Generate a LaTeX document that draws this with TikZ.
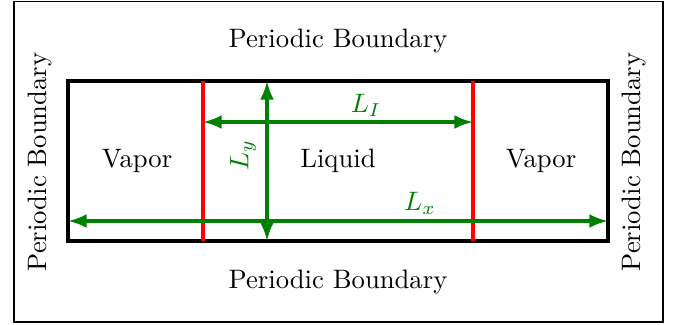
\documentclass[tikz,border=0pt]{standalone}
\usetikzlibrary{arrows.meta}
\definecolor{dgreen}{RGB}{0,128,0}
\tikzset{
  frame/.style={draw=black, line width=0.4pt},
  box/.style={draw=black, line width=1.16pt},
  sep/.style={draw=red, line width=1.16pt},
  dim/.style={draw=dgreen, line width=1.16pt, {Latex[length=7pt,width=5.2pt]}-{Latex[length=7pt,width=5.2pt]}},
  lab/.style={text=black},
  glab/.style={text=dgreen}
}
\begin{document}
\begin{tikzpicture}[x=0.375pt, y=-0.375pt]
\useasboundingbox (0,0) rectangle (688,324);
\draw[frame] (14,1.5) rectangle (663,322);
% inner box
\coordinate (tl) at (68,81);
\coordinate (br) at (608,241);
\draw[box] (tl) rectangle (br);
% red separators
\coordinate (r1t) at (203,81);
\coordinate (r1b) at (203,241);
\coordinate (r2t) at (473,81);
\coordinate (r2b) at (473,241);
\draw[sep] (r1t) -- (r1b);
\draw[sep] (r2t) -- (r2b);
% dimension arrows
\coordinate (li1) at (203,122);
\coordinate (li2) at (473,122);
\draw[dim] (li1) -- (li2);
\coordinate (ly1) at (267,81);
\coordinate (ly2) at (267,241);
\draw[dim] (ly1) -- (ly2);
\coordinate (lx1) at (68,221);
\coordinate (lx2) at (608,221);
\draw[dim] (lx1) -- (lx2);
% labels
\node[lab] (pt) at (338,41) {Periodic Boundary};
\node[lab] (pb) at (338,282) {Periodic Boundary};
\node[lab, rotate=90] (pl) at (40,162) {Periodic Boundary};
\node[lab, rotate=90] (pr) at (634,162) {Periodic Boundary};
\node[lab] (v1) at (137,161) {Vapor};
\node[lab] (lq) at (338,161) {Liquid};
\node[lab] (v2) at (541,161) {Vapor};
\node[glab] (tli) at (366,105) {$L_I$};
\node[glab, rotate=90] (tly) at (243,155) {$L_y$};
\node[glab] (tlx) at (420,203) {$L_x$};
\end{tikzpicture}
\end{document}
